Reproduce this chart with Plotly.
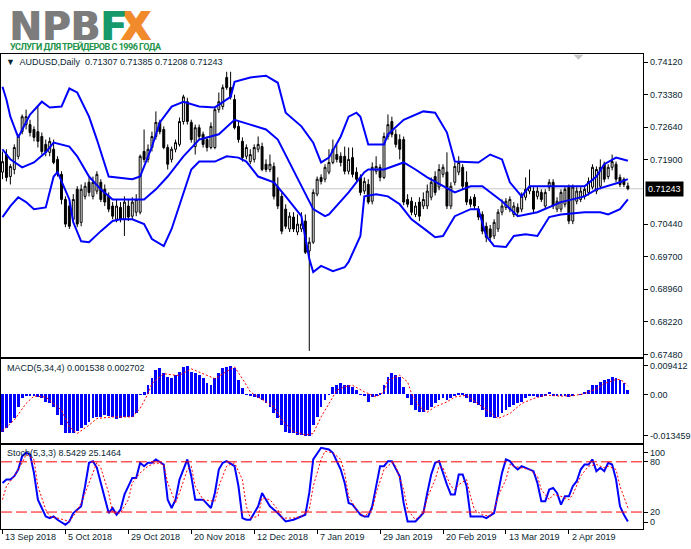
import plotly.graph_objects as go

# -----------------------------
# AUDUSD Daily (bar index 0..159)
# -----------------------------
o = [0.7162, 0.7202, 0.7152, 0.7168, 0.7198, 0.7254, 0.7270, 0.7270, 0.7259, 0.7254,
     0.7243, 0.7225, 0.7207, 0.7214, 0.7191, 0.7157, 0.7100, 0.7085, 0.7055, 0.7123,
     0.7048, 0.7107, 0.7139, 0.7107, 0.7119, 0.7139, 0.7123, 0.7107, 0.7085, 0.7055,
     0.7082, 0.7055, 0.7085, 0.7062, 0.7071, 0.7071, 0.7209, 0.7191, 0.7218, 0.7243,
     0.7275, 0.7259, 0.7218, 0.7191, 0.7214, 0.7225, 0.7277, 0.7322, 0.7275, 0.7220,
     0.7263, 0.7248, 0.7236, 0.7218, 0.7218, 0.7304, 0.7311, 0.7377, 0.7354, 0.7327,
     0.7266, 0.7232, 0.7198, 0.7186, 0.7191, 0.7214, 0.7220, 0.7180, 0.7168, 0.7175,
     0.7128, 0.7107, 0.7078, 0.7033, 0.7060, 0.7026, 0.7033, 0.7051, 0.6983, 0.7003,
     0.7112, 0.7150, 0.7146, 0.7162, 0.7184, 0.7202, 0.7198, 0.7198, 0.7164, 0.7195,
     0.7162, 0.7150, 0.7119, 0.7134, 0.7096, 0.7164, 0.7173, 0.7150, 0.7243, 0.7277,
     0.7248, 0.7236, 0.7236, 0.7100, 0.7096, 0.7066, 0.7094, 0.7085, 0.7085, 0.7105,
     0.7152, 0.7128, 0.7157, 0.7162, 0.7085, 0.7139, 0.7162, 0.7173, 0.7139, 0.7100,
     0.7105, 0.7078, 0.7066, 0.7039, 0.7033, 0.7017, 0.7033, 0.7071, 0.7082, 0.7078,
     0.7066, 0.7082, 0.7078, 0.7105, 0.7119, 0.7119, 0.7107, 0.7116, 0.7085, 0.7128,
     0.7139, 0.7078, 0.7078, 0.7089, 0.7128, 0.7051, 0.7096, 0.7100, 0.7107, 0.7116,
     0.7128, 0.7119, 0.7130, 0.7180, 0.7152, 0.7173, 0.7180, 0.7150, 0.7146, 0.71307]
h = [0.7209, 0.7214, 0.7180, 0.7225, 0.7248, 0.7293, 0.7304, 0.7281, 0.7266, 0.7311,
     0.7252, 0.7236, 0.7241, 0.7236, 0.7198, 0.7164, 0.7107, 0.7094, 0.7112, 0.7130,
     0.7134, 0.7139, 0.7150, 0.7152, 0.7164, 0.7146, 0.7134, 0.7116, 0.7094, 0.7100,
     0.7094, 0.7107, 0.7100, 0.7105, 0.7112, 0.7202, 0.7259, 0.7225, 0.7254, 0.7300,
     0.7281, 0.7266, 0.7225, 0.7220, 0.7236, 0.7286, 0.7338, 0.7331, 0.7281, 0.7270,
     0.7270, 0.7254, 0.7243, 0.7275, 0.7311, 0.7343, 0.7361, 0.7390, 0.7390, 0.7338,
     0.7277, 0.7241, 0.7225, 0.7214, 0.7225, 0.7243, 0.7229, 0.7191, 0.7202, 0.7184,
     0.7150, 0.7116, 0.7089, 0.7071, 0.7071, 0.7066, 0.7071, 0.7066, 0.7014, 0.7123,
     0.7152, 0.7157, 0.7180, 0.7214, 0.7236, 0.7225, 0.7207, 0.7220, 0.7218, 0.7218,
     0.7173, 0.7157, 0.7150, 0.7146, 0.7184, 0.7198, 0.7180, 0.7252, 0.7293, 0.7288,
     0.7259, 0.7248, 0.7243, 0.7112, 0.7105, 0.7094, 0.7105, 0.7116, 0.7134, 0.7150,
     0.7164, 0.7180, 0.7180, 0.7207, 0.7139, 0.7184, 0.7198, 0.7180, 0.7164, 0.7107,
     0.7112, 0.7085, 0.7073, 0.7048, 0.7042, 0.7055, 0.7078, 0.7100, 0.7103, 0.7107,
     0.7094, 0.7091, 0.7116, 0.7150, 0.7168, 0.7128, 0.7128, 0.7123, 0.7123, 0.7146,
     0.7146, 0.7105, 0.7123, 0.7130, 0.7134, 0.7134, 0.7128, 0.7128, 0.7130, 0.7150,
     0.7180, 0.7175, 0.7191, 0.7186, 0.7180, 0.7202, 0.7186, 0.7157, 0.7150, 0.71385]
l = [0.7146, 0.7141, 0.7134, 0.7157, 0.7191, 0.7248, 0.7259, 0.7243, 0.7232, 0.7218,
     0.7202, 0.7198, 0.7198, 0.7180, 0.7152, 0.7089, 0.7037, 0.7033, 0.7048, 0.7037,
     0.7039, 0.7100, 0.7107, 0.7100, 0.7112, 0.7094, 0.7085, 0.7071, 0.7055, 0.7048,
     0.7048, 0.7017, 0.7051, 0.7055, 0.7062, 0.7066, 0.7184, 0.7184, 0.7209, 0.7236,
     0.7248, 0.7214, 0.7168, 0.7184, 0.7207, 0.7220, 0.7270, 0.7270, 0.7229, 0.7202,
     0.7236, 0.7218, 0.7209, 0.7214, 0.7214, 0.7297, 0.7304, 0.7349, 0.7327, 0.7259,
     0.7229, 0.7186, 0.7191, 0.7180, 0.7184, 0.7207, 0.7164, 0.7162, 0.7162, 0.7100,
     0.7078, 0.7021, 0.7033, 0.7026, 0.7026, 0.7019, 0.7026, 0.6976, 0.6756, 0.6999,
     0.7107, 0.7134, 0.7139, 0.7157, 0.7180, 0.7184, 0.7175, 0.7157, 0.7157, 0.7150,
     0.7139, 0.7109, 0.7112, 0.7089, 0.7089, 0.7157, 0.7141, 0.7146, 0.7236, 0.7241,
     0.7218, 0.7191, 0.7087, 0.7082, 0.7064, 0.7060, 0.7051, 0.7078, 0.7078, 0.7098,
     0.7109, 0.7121, 0.7150, 0.7078, 0.7078, 0.7132, 0.7155, 0.7123, 0.7087, 0.7082,
     0.7078, 0.7053, 0.7021, 0.7003, 0.7005, 0.7010, 0.7026, 0.7064, 0.7076, 0.7071,
     0.7060, 0.7064, 0.7071, 0.7098, 0.7112, 0.7071, 0.7100, 0.7094, 0.7078, 0.7119,
     0.7078, 0.7071, 0.7071, 0.7082, 0.7044, 0.7044, 0.7089, 0.7094, 0.7100, 0.7109,
     0.7123, 0.7112, 0.7123, 0.7139, 0.7146, 0.7166, 0.7139, 0.7128, 0.7128, 0.71208]
c = [0.7186, 0.7150, 0.7175, 0.7218, 0.7243, 0.7288, 0.7288, 0.7252, 0.7241, 0.7232,
     0.7209, 0.7207, 0.7232, 0.7184, 0.7162, 0.7100, 0.7044, 0.7039, 0.7100, 0.7044,
     0.7123, 0.7130, 0.7116, 0.7139, 0.7157, 0.7100, 0.7094, 0.7078, 0.7062, 0.7085,
     0.7055, 0.7094, 0.7060, 0.7094, 0.7100, 0.7198, 0.7191, 0.7214, 0.7243, 0.7275,
     0.7254, 0.7218, 0.7180, 0.7214, 0.7229, 0.7277, 0.7333, 0.7277, 0.7236, 0.7263,
     0.7243, 0.7225, 0.7218, 0.7266, 0.7304, 0.7322, 0.7354, 0.7354, 0.7333, 0.7263,
     0.7236, 0.7195, 0.7218, 0.7202, 0.7218, 0.7225, 0.7168, 0.7168, 0.7180, 0.7107,
     0.7085, 0.7028, 0.7039, 0.7062, 0.7033, 0.7044, 0.7044, 0.6980, 0.7003, 0.7116,
     0.7146, 0.7141, 0.7173, 0.7184, 0.7214, 0.7191, 0.7184, 0.7164, 0.7191, 0.7157,
     0.7146, 0.7116, 0.7141, 0.7094, 0.7173, 0.7175, 0.7150, 0.7243, 0.7270, 0.7248,
     0.7225, 0.7214, 0.7094, 0.7089, 0.7071, 0.7085, 0.7062, 0.7100, 0.7119, 0.7139,
     0.7116, 0.7168, 0.7173, 0.7085, 0.7130, 0.7175, 0.7184, 0.7130, 0.7094, 0.7089,
     0.7085, 0.7060, 0.7028, 0.7014, 0.7014, 0.7048, 0.7071, 0.7085, 0.7096, 0.7100,
     0.7085, 0.7071, 0.7107, 0.7123, 0.7128, 0.7078, 0.7119, 0.7100, 0.7116, 0.7139,
     0.7085, 0.7096, 0.7116, 0.7123, 0.7051, 0.7128, 0.7119, 0.7119, 0.7123, 0.7141,
     0.7173, 0.7168, 0.7173, 0.7146, 0.7173, 0.7186, 0.7146, 0.7134, 0.7134, 0.71243]

# Bollinger bands (read at the turning points of each line)
bb_up_x = [0, 1, 2, 4, 7, 10, 12, 15, 17, 19, 22, 24, 27, 29, 33, 35, 38, 40, 43, 46, 50, 54, 55, 58, 59,
           63, 67, 70, 72, 74, 76, 79, 81, 83, 86, 88, 90, 91, 93, 97, 98, 102, 107, 110, 113, 115, 119,
           121, 124, 127, 129, 132, 134, 142, 148, 151, 153, 156, 159]
bb_up = [0.7356, 0.7327, 0.7288, 0.7241, 0.7293, 0.7322, 0.7309, 0.7311, 0.7352, 0.7343, 0.7288, 0.7236,
         0.7152, 0.7150, 0.7146, 0.7152, 0.7220, 0.7275, 0.7311, 0.7322, 0.7311, 0.7309, 0.7315, 0.7333,
         0.7367, 0.7377, 0.7381, 0.7365, 0.7297, 0.7281, 0.7266, 0.7229, 0.7184, 0.7195, 0.7243, 0.7288,
         0.7297, 0.7288, 0.7225, 0.7225, 0.7248, 0.7281, 0.7300, 0.7297, 0.7252, 0.7186, 0.7184, 0.7184,
         0.7202, 0.7191, 0.7139, 0.7107, 0.7130, 0.7130, 0.7130, 0.7152, 0.7180, 0.7195, 0.7188]
bb_mid_x = [0, 2, 5, 8, 11, 13, 17, 19, 22, 25, 28, 33, 36, 39, 42, 46, 50, 55, 59, 63, 67, 70, 73, 76,
            79, 82, 83, 88, 92, 93, 97, 102, 105, 108, 115, 119, 122, 127, 131, 136, 142, 148, 151, 157, 159]
bb_mid = [0.7214, 0.7191, 0.7173, 0.7184, 0.7207, 0.7229, 0.7220, 0.7198, 0.7152, 0.7123, 0.7100, 0.7100,
          0.7100, 0.7123, 0.7152, 0.7198, 0.7236, 0.7248, 0.7281, 0.7270, 0.7259, 0.7236, 0.7184, 0.7130,
          0.7078, 0.7062, 0.7066, 0.7116, 0.7162, 0.7168, 0.7168, 0.7184, 0.7168, 0.7150, 0.7116, 0.7130,
          0.7130, 0.7096, 0.7062, 0.7071, 0.7094, 0.7107, 0.7123, 0.7139, 0.7146]
bb_low_x = [0, 2, 4, 6, 8, 11, 13, 14, 17, 18, 20, 22, 25, 28, 30, 33, 36, 38, 41, 43, 48, 50, 54, 57, 60,
            62, 65, 69, 72, 76, 78, 79, 81, 84, 87, 88, 91, 92, 95, 98, 101, 104, 108, 110, 112, 115, 119,
            121, 123, 125, 128, 130, 133, 136, 139, 142, 148, 152, 154, 157, 159]
bb_low = [0.7060, 0.7085, 0.7105, 0.7094, 0.7078, 0.7082, 0.7152, 0.7162, 0.7100, 0.7048, 0.7005, 0.7003,
          0.7028, 0.7051, 0.7055, 0.7055, 0.7044, 0.7010, 0.6994, 0.7033, 0.7168, 0.7186, 0.7186, 0.7198,
          0.7195, 0.7186, 0.7152, 0.7139, 0.7107, 0.7062, 0.6965, 0.6935, 0.6949, 0.6937, 0.6946, 0.6958,
          0.7017, 0.7107, 0.7112, 0.7107, 0.7089, 0.7055, 0.7028, 0.7014, 0.7017, 0.7062, 0.7078, 0.7078,
          0.7017, 0.6994, 0.6992, 0.7017, 0.7021, 0.7017, 0.7060, 0.7066, 0.7071, 0.7071, 0.7066, 0.7078,
          0.7100]

# MACD(5,34,4) histogram, one value per bar
macd = [-0.01213, -0.01105, -0.00942, -0.00780, -0.00401, -0.00130, -0.00022, -0.00022, -0.00022, -0.00076,
        -0.00130, -0.00238, -0.00292, -0.00401, -0.00671, -0.00996, -0.01267, -0.01267, -0.01267, -0.01180,
        -0.01105, -0.00996, -0.00888, -0.00780, -0.00726, -0.00726, -0.00671, -0.00704, -0.00726, -0.00812,
        -0.00780, -0.00747, -0.00726, -0.00726, -0.00617, 0.00010, 0.00065, 0.00303, 0.00520, 0.00791,
        0.00845, 0.00682, 0.00574, 0.00520, 0.00628, 0.00736, 0.00900, 0.00920, 0.00736, 0.00682,
        0.00628, 0.00520, 0.00357, 0.00303, 0.00520, 0.00682, 0.00850, 0.00900, 0.00941, 0.00845,
        0.00466, 0.00195, 0.00010, -0.00054, -0.00076, -0.00130, -0.00184, -0.00292, -0.00401, -0.00617,
        -0.00780, -0.00996, -0.01213, -0.01267, -0.01267, -0.01321, -0.01321, -0.01346, -0.01346, -0.00996,
        -0.00726, -0.00401, -0.00184, 0.00010, 0.00249, 0.00303, 0.00370, 0.00303, 0.00303, 0.00249,
        0.00141, 0.00010, -0.00022, -0.00238, -0.00076, -0.00022, 0.00054, 0.00303, 0.00574, 0.00682,
        0.00628, 0.00574, 0.00249, -0.00130, -0.00347, -0.00509, -0.00563, -0.00563, -0.00509, -0.00401,
        -0.00292, -0.00184, -0.00130, -0.00184, -0.00130, -0.00054, 0.00054, 0.00032, -0.00130, -0.00238,
        -0.00292, -0.00347, -0.00509, -0.00726, -0.00747, -0.00780, -0.00726, -0.00617, -0.00509, -0.00401,
        -0.00347, -0.00292, -0.00238, -0.00130, -0.00054, -0.00054, -0.00076, -0.00076, -0.00054, 0.00087,
        -0.00022, -0.00054, -0.00022, -0.00043, -0.00097, -0.00032, 0.00000, 0.00011, 0.00087, 0.00141,
        0.00303, 0.00303, 0.00412, 0.00466, 0.00487, 0.00552, 0.00520, 0.00466, 0.00357, 0.001538]
sig_x = [0, 3, 6, 8, 11, 15, 17, 19, 22, 24, 28, 33, 35, 37, 38, 41, 44, 45, 48, 50, 54, 56, 59, 61, 63,
         65, 69, 71, 74, 77, 79, 81, 83, 85, 87, 89, 92, 95, 97, 98, 101, 103, 104, 106, 108, 110, 113,
         115, 118, 119, 122, 125, 126, 129, 132, 135, 138, 142, 145, 148, 151, 153, 156, 157, 158, 159]
sig = [-0.0118, -0.0083, -0.0029, -0.0005, -0.0008, -0.0051, -0.0105, -0.0127, -0.0100, -0.0078, -0.0073,
       -0.0073, -0.0045, 0.0003, 0.0036, 0.0068, 0.0063, 0.0063, 0.0084, 0.0074, 0.0052, 0.0068, 0.0090,
       0.0052, 0.0009, -0.0008, -0.0040, -0.0083, -0.0121, -0.0132, -0.0127, -0.0073, -0.0029, 0.0014,
       0.0025, 0.0030, 0.0009, -0.0008, 0.0009, 0.0047, 0.0063, 0.0041, 0.0003, -0.0040, -0.0057, -0.0040,
       -0.0024, -0.0008, -0.0002, -0.0013, -0.0040, -0.0067, -0.0078, -0.0062, -0.0029, -0.0013, -0.0002,
       -0.0005, -0.0004, 0.0003, 0.0019, 0.0036, 0.0049, 0.0049, 0.0041, 0.002702]

# Stochastic(5,3,3)
k_x = [0, 1, 2, 3, 4, 5, 6, 7, 8, 9, 11, 12, 13, 14, 16, 17, 18, 20, 21, 22, 23, 24, 25, 27, 28, 29, 30,
       31, 33, 34, 35, 36, 37, 38, 39, 41, 42, 43, 44, 45, 47, 48, 49, 51, 53, 54, 55, 56, 57, 59, 60, 61,
       62, 63, 65, 66, 67, 68, 70, 72, 74, 76, 77, 78, 79, 81, 83, 84, 86, 87, 88, 89, 91, 92, 93, 94, 95,
       96, 97, 98, 99, 101, 102, 103, 105, 107, 108, 109, 110, 111, 113, 114, 115, 116, 117, 118, 119,
       121, 122, 123, 125, 126, 127, 128, 129, 130, 131, 132, 133, 135, 136, 137, 138, 139, 140, 141, 142,
       143, 144, 145, 146, 147, 148, 149, 150, 151, 152, 153, 154, 155, 156, 157, 158, 159]
k_val = [54.8, 58.8, 58.8, 62.8, 70.8, 86.8, 90.8, 88.8, 66.8, 34.8, 14.8, 12.8, 14.8, 10.8, 4.8, 8.8,
         18.8, 26.8, 50.8, 78.8, 80.8, 72.8, 54.8, 18.8, 24.8, 16.8, 22.8, 40.8, 60.8, 60.8, 78.8, 74.8,
         78.8, 78.8, 82.8, 76.8, 34.8, 24.8, 34.8, 58.8, 82.8, 62.8, 34.8, 34.8, 24.8, 42.8, 70.8, 78.8,
         80.8, 74.8, 50.8, 12.8, 10.8, 10.8, 26.8, 42.8, 34.8, 26.8, 18.8, 8.8, 10.8, 14.8, 16.8, 42.8,
         82.8, 96.8, 94.8, 90.8, 70.8, 54.8, 30.8, 28.8, 16.8, 14.8, 14.8, 26.8, 50.8, 74.8, 74.8, 80.8,
         80.8, 62.8, 30.8, 8.8, 8.8, 18.8, 42.8, 64.8, 78.8, 80.8, 52.8, 40.8, 40.8, 64.8, 64.8, 50.8,
         14.8, 14.8, 14.8, 12.8, 18.8, 42.8, 66.8, 82.8, 80.8, 74.8, 70.8, 74.8, 72.8, 68.8, 54.8, 32.8,
         32.8, 46.8, 48.8, 42.8, 28.8, 38.8, 38.8, 50.8, 56.8, 70.8, 76.8, 76.8, 82.8, 68.8, 72.8, 68.8,
         78.8, 76.8, 58.8, 26.8, 16.8, 8.5429]
d_x = [0, 1, 3, 5, 6, 8, 9, 11, 12, 14, 17, 18, 20, 22, 24, 25, 27, 28, 30, 32, 33, 35, 37, 39, 41, 42,
       44, 45, 47, 48, 49, 51, 54, 55, 57, 59, 61, 62, 63, 65, 66, 68, 70, 71, 74, 76, 78, 79, 81, 82,
       84, 86, 87, 88, 90, 92, 94, 95, 97, 99, 100, 102, 103, 105, 107, 108, 110, 111, 112, 114, 115,
       116, 118, 119, 120, 122, 124, 125, 126, 128, 129, 130, 132, 134, 136, 137, 139, 140, 142, 144,
       145, 146, 147, 149, 151, 153, 154, 156, 157, 159]
d_val = [34.8, 50.8, 62.8, 78.8, 88.8, 82.8, 50.8, 22.8, 14.8, 12.8, 8.8, 14.8, 30.8, 54.8, 78.8, 72.8,
         42.8, 18.8, 18.8, 34.8, 54.8, 66.8, 74.8, 78.8, 76.8, 54.8, 30.8, 42.8, 70.8, 74.8, 50.8, 34.8,
         32.8, 50.8, 74.8, 78.8, 58.8, 26.8, 12.8, 14.8, 36.8, 34.8, 22.8, 12.8, 12.8, 14.8, 22.8, 50.8,
         82.8, 92.8, 90.8, 82.8, 66.8, 38.8, 22.8, 14.8, 22.8, 42.8, 70.8, 78.8, 74.8, 46.8, 22.8, 10.8,
         18.8, 36.8, 58.8, 74.8, 72.8, 50.8, 46.8, 52.8, 58.8, 38.8, 22.8, 16.8, 14.8, 22.8, 38.8, 58.8,
         76.8, 74.8, 72.8, 70.8, 62.8, 46.8, 34.8, 40.8, 38.8, 34.8, 40.8, 50.8, 62.8, 74.8, 76.8, 72.8,
         74.8, 70.8, 50.8, 25.1464]

date_idx = [0, 16, 32, 48, 64, 80, 96, 112, 128, 144]
date_lbl = ["13 Sep 2018", "5 Oct 2018", "29 Oct 2018", "20 Nov 2018", "12 Dec 2018",
            "7 Jan 2019", "29 Jan 2019", "20 Feb 2019", "13 Mar 2019", "2 Apr 2019"]
price_ticks = [0.74120, 0.73380, 0.72640, 0.71900, 0.70440, 0.69700, 0.68960, 0.68220, 0.67480]
last_price = 0.71243

# -----------------------------
# layout helpers (pixels -> paper)
# -----------------------------
W, H = 691, 549
def px(x):
    return x / W
def py(y):
    return 1 - y / H

FONT = "Liberation Sans, Arial, sans-serif"
TXT = "#0b1f33"
BLUE = "#0000ff"
RED = "#ff0000"
bars = list(range(len(c)))

fig = go.Figure()

fig.add_trace(go.Candlestick(
    x=bars, open=o, high=h, low=l, close=c,
    increasing=dict(fillcolor="white", line=dict(color="black", width=1)),
    decreasing=dict(fillcolor="black", line=dict(color="black", width=1)),
    whiskerwidth=0, xaxis="x", yaxis="y", hoverinfo="skip",
))
for xs, ys in [(bb_up_x, bb_up), (bb_mid_x, bb_mid), (bb_low_x, bb_low)]:
    fig.add_trace(go.Scatter(x=xs, y=ys, mode="lines", line=dict(color=BLUE, width=2),
                             xaxis="x", yaxis="y", hoverinfo="skip"))

fig.add_trace(go.Bar(x=bars, y=macd, marker=dict(color=BLUE, line=dict(width=0)), width=0.72,
                     xaxis="x2", yaxis="y2", hoverinfo="skip"))
fig.add_trace(go.Scatter(x=sig_x, y=sig, mode="lines", line=dict(color=RED, width=1, dash="2px,2px"),
                         xaxis="x2", yaxis="y2", hoverinfo="skip"))

fig.add_trace(go.Scatter(x=k_x, y=k_val, mode="lines", line=dict(color=BLUE, width=2),
                         xaxis="x3", yaxis="y3", hoverinfo="skip"))
fig.add_trace(go.Scatter(x=d_x, y=d_val, mode="lines", line=dict(color=RED, width=1, dash="2px,2px"),
                         xaxis="x3", yaxis="y3", hoverinfo="skip"))

XR = [-0.38, 162.9]
XD = [0, px(645)]
xbase = dict(range=XR, domain=XD, showgrid=False, zeroline=False, showline=True, mirror=True,
             linecolor="black", linewidth=1, showticklabels=False, ticks="", fixedrange=True)
ybase = dict(showgrid=False, zeroline=False, showline=True, mirror=True, linecolor="black",
             linewidth=1, side="right", ticks="outside", ticklen=4, tickcolor="black",
             tickfont=dict(family=FONT, size=9, color=TXT), fixedrange=True)

fig.update_layout(
    width=W, height=H, autosize=False,
    margin=dict(l=0, r=0, t=0, b=0),
    paper_bgcolor="white", plot_bgcolor="white",
    showlegend=False, bargap=0,
    xaxis=dict(xbase, anchor="y", rangeslider=dict(visible=False)),
    xaxis2=dict(xbase, anchor="y2", matches="x"),
    xaxis3=dict(xbase, anchor="y3", matches="x", ticks="outside", ticklen=4, tickcolor="black",
                tickvals=date_idx),
    yaxis=dict(ybase, anchor="x", domain=[py(358.5), py(54)], range=[0.67417, 0.74308],
               tickvals=price_ticks, ticktext=[f"{v:.5f}" for v in price_ticks]),
    yaxis2=dict(ybase, anchor="x2", domain=[py(444.3), py(360.5)], range=[-0.0157, 0.01154],
                tickvals=[0.009412, 0.0, -0.013459], ticktext=["0.009412", "0.00", "-0.013459"]),
    yaxis3=dict(ybase, anchor="x3", domain=[py(530.7), py(446.7)], range=[0, 100],
                tickvals=[91.3, 80, 20, 8], ticktext=["100", "80", "20", "0"]),
)

shapes = [
    # bid line
    dict(type="line", xref="paper", yref="y", x0=0, x1=px(645), y0=last_price, y1=last_price,
         line=dict(color="#c8c8c8", width=1), layer="below"),
    # stochastic levels
    dict(type="line", xref="paper", yref="y3", x0=0, x1=px(645), y0=80, y1=80,
         line=dict(color=RED, width=1, dash="11px,4px")),
    dict(type="line", xref="paper", yref="y3", x0=0, x1=px(645), y0=20, y1=20,
         line=dict(color=RED, width=1, dash="11px,4px")),
    # chart shift marker
    dict(type="path", xref="paper", yref="paper",
         path=f"M {px(575)},{py(55)} L {px(585)},{py(55)} L {px(580)},{py(60)} Z",
         fillcolor="#c4c4c4", line=dict(width=0)),
]
fig.update_layout(shapes=shapes)

ann = []
# logo (letters drawn twice, 1px apart, to get the heavy weight)
def logo_letter(t, x, color):
    for dx in (0, 1.2):
        ann.append(dict(text=f"<b>{t}</b>", x=px(x), y=py(27), xref="paper", yref="paper",
                        xanchor="left", yanchor="middle", showarrow=False, xshift=dx,
                        font=dict(family="DejaVu Sans", size=39, color=color)))
logo_letter("NPB", 6, "#7c7c7c")
logo_letter("X", 118, "#f18a2b")
logo_letter("F", 97, "#16996b")
ann.append(dict(text='<b><span style="letter-spacing:-0.5px">УСЛУГИ ДЛЯ ТРЕЙДЕРОВ С 1996 ГОДА</span></b>',
                x=px(7), y=py(46.5), xref="paper", yref="paper", xanchor="left", yanchor="middle",
                showarrow=False, font=dict(family="Roboto, sans-serif", size=9, color="#22944a")))
# panel headers
ann.append(dict(text="▼  AUDUSD,Daily  0.71307 0.71385 0.71208 0.71243", x=px(3), y=py(62),
                xref="paper", yref="paper", xanchor="left", yanchor="middle", showarrow=False,
                font=dict(family=FONT, size=9, color=TXT)))
ann.append(dict(text="MACD(5,34,4) 0.001538 0.002702", x=px(4), y=py(369), xref="paper", yref="paper",
                xanchor="left", yanchor="middle", showarrow=False, font=dict(family=FONT, size=9, color=TXT)))
ann.append(dict(text="Stoch(5,3,3) 8.5429 25.1464", x=px(4), y=py(455), xref="paper", yref="paper",
                xanchor="left", yanchor="middle", showarrow=False, font=dict(family=FONT, size=9, color=TXT)))
# current price box
ann.append(dict(text="0.71243", x=px(647), y=last_price, xref="paper", yref="y", xanchor="left",
                yanchor="middle", showarrow=False, bgcolor="black", borderpad=2,
                font=dict(family=FONT, size=9, color="white")))
# date labels
for i, t in zip(date_idx, date_lbl):
    ann.append(dict(text=t, x=i, y=py(539), xref="x3", yref="paper", xanchor="left", yanchor="middle",
                    xshift=1, showarrow=False, font=dict(family=FONT, size=9, color=TXT)))
fig.update_layout(annotations=ann)

fig.write_html("out.html", config={"displayModeBar": False},
               post_script="document.body.style.margin='0px';")
